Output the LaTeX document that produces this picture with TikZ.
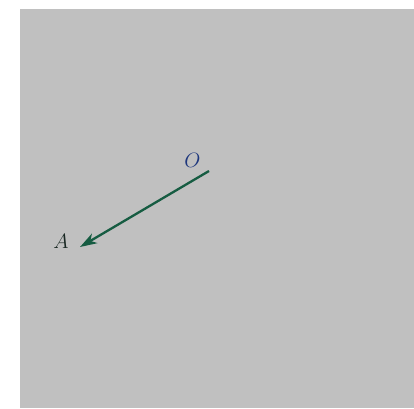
\documentclass[tikz,border=0pt]{standalone}
\usetikzlibrary{arrows.meta}
\definecolor{bggray}{RGB}{192,192,192}
\definecolor{vecgreen}{RGB}{22,92,66}
\definecolor{labblue}{RGB}{30,55,125}
\definecolor{labdark}{RGB}{25,40,35}
\begin{document}
\begin{tikzpicture}[x=1pt,y=1pt,
  lab/.style={inner sep=0pt,font=\fontsize{21}{25}\selectfont},
  vec/.style={draw=vecgreen,line width=2.3pt,-{Stealth[length=17pt,width=11pt,inset=5pt]}}]
\useasboundingbox (0,0) rectangle (414,408);
\fill[bggray] (20,0) rectangle (414,399);
\coordinate (O) at (209,237);
\coordinate (A) at (80,161);
\node[lab,text=labblue] (Olab) at (192.5,248) {$O$};
\node[lab,text=labdark] (Alab) at (61,167) {$A$};
\draw[vec] (O) -- (A);
\end{tikzpicture}
\end{document}
